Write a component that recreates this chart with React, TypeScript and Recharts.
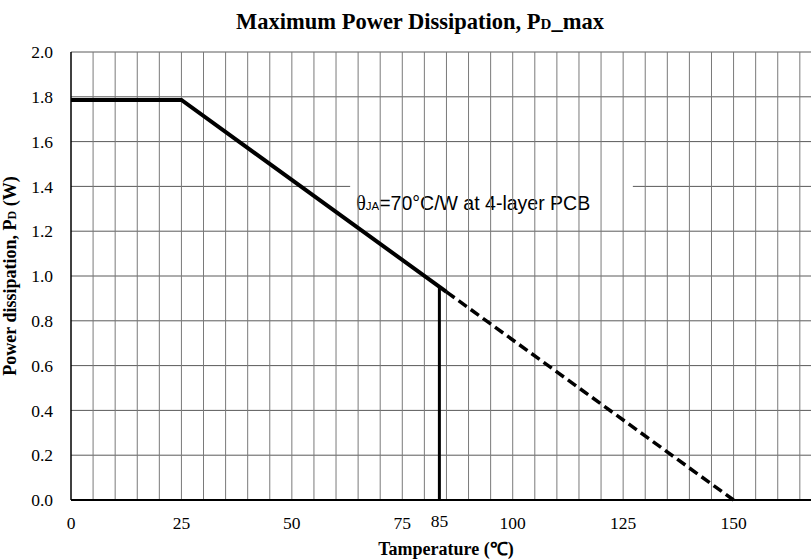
import React from 'react';
import {
  ComposedChart,
  Line,
  XAxis,
  YAxis,
  CartesianGrid,
  ReferenceLine,
  ReferenceArea,
} from 'recharts';

// ---- data ----
const SOLID_T = [0, 25, 85];
const SOLID_P = [1.786, 1.786, 0.929];
const DASH_T = [85, 150];
const DASH_P = [0.929, 0];
const MARK_T = [83.4, 83.4];
const MARK_P = [0, 0.951];

const TEMP_TICKS = [0, 25, 50, 75, 83.4, 100, 125, 150];
const TEMP_TICK_LABELS = ['0', '25', '50', '75', '85', '100', '125', '150'];
const POWER_TICKS = [0, 0.2, 0.4, 0.6, 0.8, 1.0, 1.2, 1.4, 1.6, 1.8, 2.0];
const GRID_T = [5, 10, 15, 20, 25, 30, 35, 40, 45, 50, 55, 60, 65, 70, 75, 80, 85, 90, 95, 100, 105, 110, 115, 120, 125, 130, 135, 140, 145, 150, 155, 160, 165, 170, 175];

const NOTE_T = [63.2, 127.2];
const NOTE_P = [1.281, 1.411];

const solid = SOLID_T.map((t, i) => ({ t, p: SOLID_P[i] }));
const dashed = DASH_T.map((t, i) => ({ t, p: DASH_P[i] }));
const mark = MARK_T.map((t, i) => ({ t, p: MARK_P[i] }));

const SERIF = '"Liberation Serif", "Times New Roman", serif';
const SANS = '"Liberation Sans", Arial, sans-serif';

const XTick = (props: any) => {
  const { x, y, payload, index } = props;
  const label = TEMP_TICK_LABELS[index] ?? String(payload.value);
  const lift = label === '85' ? -2 : 0;
  return (
    <text x={x} y={y + lift} dy="0.71em" textAnchor="middle" fontFamily={SERIF} fontSize={17.5} fill="#000">
      {label}
    </text>
  );
};

const NoteLabel = (props: any) => {
  const vb = props.viewBox || {};
  return (
    <text x={vb.x + 6} y={vb.y + 26} fontFamily={SANS} fontSize={19.5} fill="#000">
      <tspan fontFamily={SERIF} fontSize={20}>θ</tspan>
      <tspan fontSize={11.5}>JA</tspan>=70°C/W at 4-layer PCB
    </text>
  );
};

export default function App() {
  return (
    <div style={{ position: 'absolute', left: 0, top: 0, width: 811, height: 560, overflow: 'hidden', background: '#fff' }}>
      <ComposedChart width={854} height={560} margin={{ top: 52, right: 10, bottom: 10, left: 0 }}>
        <CartesianGrid vertical={false} stroke="#5a5a5a" strokeWidth={1} />
        <XAxis
          dataKey="t"
          type="number"
          domain={[0, 175]}
          allowDataOverflow
          ticks={TEMP_TICKS}
          tick={<XTick />}
          tickLine={false}
          tickSize={0}
          tickMargin={17}
          height={50}
          axisLine={{ stroke: '#000', strokeWidth: 2 }}
          interval={0}
        />
        <YAxis
          type="number"
          domain={[0, 2]}
          ticks={POWER_TICKS}
          tickFormatter={(v: number) => v.toFixed(1)}
          tick={{ fontFamily: SERIF, fontSize: 17.5, fill: '#000' }}
          tickLine={false}
          tickSize={0}
          tickMargin={18}
          width={71}
          axisLine={{ stroke: '#000', strokeWidth: 1.5 }}
          interval={0}
        />
        {GRID_T.map((g) => (
          <ReferenceLine key={g} x={g} stroke="#7a7a7a" strokeWidth={1} />
        ))}
        <ReferenceArea
          x1={NOTE_T[0]}
          x2={NOTE_T[1]}
          y1={NOTE_P[0]}
          y2={NOTE_P[1]}
          fill="#fff"
          fillOpacity={1}
          stroke="none"
          label={<NoteLabel />}
        />
        <Line data={solid} dataKey="p" stroke="#000" strokeWidth={4} dot={false} activeDot={false} isAnimationActive={false} />
        <Line data={dashed} dataKey="p" stroke="#000" strokeWidth={3.5} strokeDasharray="10 5" dot={false} activeDot={false} isAnimationActive={false} />
        <Line data={mark} dataKey="p" stroke="#000" strokeWidth={3} dot={false} activeDot={false} isAnimationActive={false} />
        <text x={420} y={29} textAnchor="middle" fontFamily={SERIF} fontSize={22.5} fontWeight="bold" fill="#000">
          Maximum Power Dissipation, P<tspan fontSize={15}>D</tspan>_max
        </text>
        <text x={446} y={555} textAnchor="middle" fontFamily={SERIF} fontSize={18} fontWeight="bold" fill="#000">
          Tamperature (℃)
        </text>
        <text
          x={16}
          y={276}
          textAnchor="middle"
          fontFamily={SERIF}
          fontSize={18}
          fontWeight="bold"
          fill="#000"
          transform="rotate(-90, 16, 276)"
        >
          Power dissipation, P<tspan fontSize={12}>D</tspan> (W)
        </text>
      </ComposedChart>
    </div>
  );
}
